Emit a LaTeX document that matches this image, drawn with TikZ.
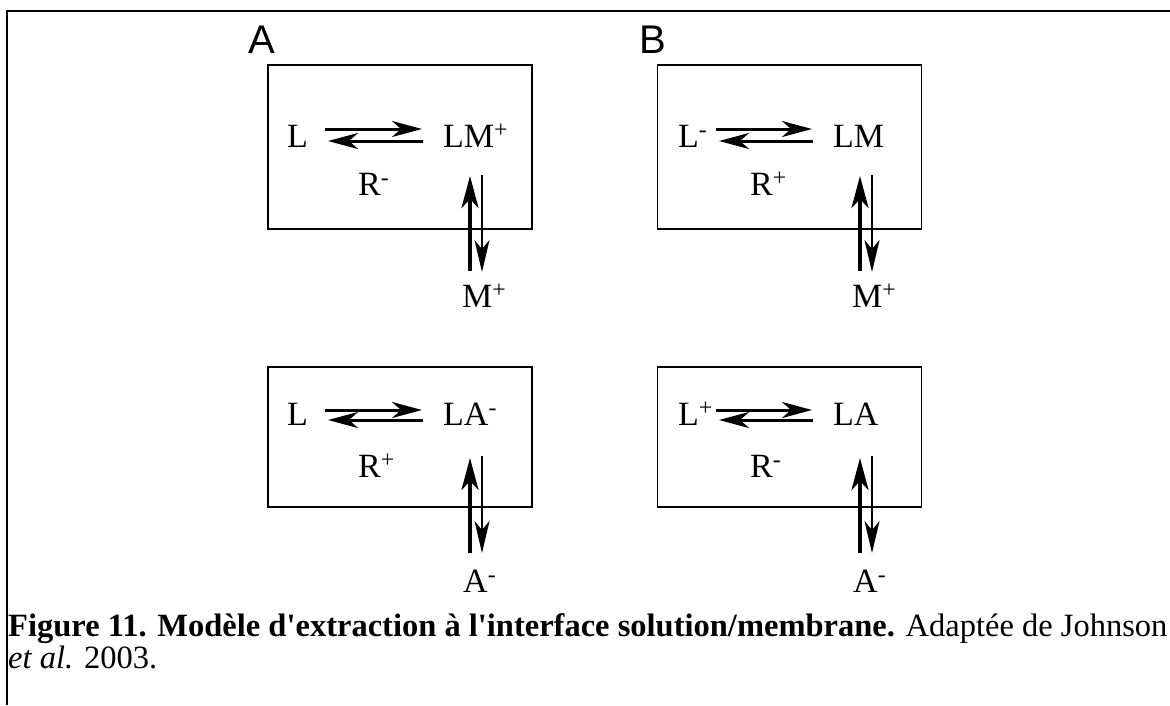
\documentclass[tikz,border=0pt]{standalone}
\usepackage{fontspec}
\setmainfont{Liberation Serif}
\newfontfamily\panelfont{Liberation Sans}
\usetikzlibrary{arrows.meta}
\tikzstyle{phase} = [
    rectangle,
    draw=black,
    line width=1.6pt,
    minimum width=264pt,
    inner sep=0pt
]
\tikzstyle{species} = [
    inner sep=0pt,
    font=\fontsize{34}{40}\selectfont
]
\tikzstyle{panel} = [
    inner sep=0pt,
    font=\panelfont\fontsize{40}{48}\selectfont
]
\tikzstyle{legend} = [
    inner sep=0pt,
    anchor=base west,
    font=\fontsize{32.5}{36}\selectfont
]
\tikzstyle{eqarrow} = [line width=3pt, -{Stealth[length=30pt,width=16pt,inset=9pt]}]
\tikzstyle{uparrow} = [line width=4pt, -{Stealth[length=32pt,width=17pt,inset=9pt]}]
\tikzstyle{downarrow} = [line width=2.4pt, -{Stealth[length=32pt,width=15pt,inset=9pt]}]

\begin{document}
\begin{tikzpicture}[x=1pt, y=-1pt]
\useasboundingbox (0,0) rectangle (1170,705);

% frame of the figure
\draw[line width=1.5pt] (1170,11) -- (7,11) -- (7,705);

\node (tagA) [panel] at (262,40) {A};
\node (tagB) [panel] at (653,40) {B};

% membrane phases
\node (memA) [phase, minimum height=164pt] at (400,147) {};
\node (memB) [phase, minimum height=164pt] at (789.5,147) {};
\node (memC) [phase, minimum height=140pt] at (400,437) {};
\node (memD) [phase, minimum height=140pt] at (789.5,437) {};

% panel A, cation
\node (la) [species, anchor=base east] at (308,147) {L};
\node (lma) [species, anchor=base west] at (443,147) {LM\rlap{\textsuperscript{+}}};
\node (ra) [species, anchor=base west] at (358,195) {R\rlap{\textsuperscript{-}}};
\node (ma) [species, anchor=base west] at (462,307) {M\rlap{\textsuperscript{+}}};

\draw [eqarrow] ([shift={(17pt,18pt)}]la.base east) -- ([shift={(-21pt,18pt)}]lma.base west);
\draw [eqarrow] ([shift={(-20pt,6pt)}]lma.base west) -- ([shift={(20pt,6pt)}]la.base east);
\draw [uparrow] ([shift={(8pt,36pt)}]ma.base west) -- ([shift={(27pt,-29pt)}]lma.base west);
\draw [downarrow] ([shift={(39pt,-28pt)}]lma.base west) -- ([shift={(20pt,35pt)}]ma.base west);

% panel B, cation
\node (lb) [species, anchor=base east] at (699,147) {L\rlap{\textsuperscript{-}}};
\node (lmb) [species, anchor=base west] at (833,147) {LM};
\node (rb) [species, anchor=base west] at (750,195) {R\rlap{\textsuperscript{+}}};
\node (mb) [species, anchor=base west] at (852,307) {M\rlap{\textsuperscript{+}}};

\draw [eqarrow] ([shift={(17pt,18pt)}]lb.base east) -- ([shift={(-21pt,18pt)}]lmb.base west);
\draw [eqarrow] ([shift={(-20pt,6pt)}]lmb.base west) -- ([shift={(20pt,6pt)}]lb.base east);
\draw [uparrow] ([shift={(8pt,36pt)}]mb.base west) -- ([shift={(27pt,-29pt)}]lmb.base west);
\draw [downarrow] ([shift={(39pt,-28pt)}]lmb.base west) -- ([shift={(20pt,35pt)}]mb.base west);

% panel A, anion
\node (lc) [species, anchor=base east] at (308,425) {L};
\node (lac) [species, anchor=base west] at (443,425) {LA\rlap{\textsuperscript{-}}};
\node (rc) [species, anchor=base west] at (358,477) {R\rlap{\textsuperscript{+}}};
\node (ac) [species, anchor=base west] at (463,592) {A\rlap{\textsuperscript{-}}};

\draw [eqarrow] ([shift={(17pt,15pt)}]lc.base east) -- ([shift={(-21pt,15pt)}]lac.base west);
\draw [eqarrow] ([shift={(-20pt,5pt)}]lac.base west) -- ([shift={(20pt,5pt)}]lc.base east);
\draw [uparrow] ([shift={(7pt,39pt)}]ac.base west) -- ([shift={(27pt,-33pt)}]lac.base west);
\draw [downarrow] ([shift={(39pt,-31pt)}]lac.base west) -- ([shift={(19pt,39pt)}]ac.base west);

% panel B, anion
\node (ld) [species, anchor=base east] at (699,425) {L\rlap{\textsuperscript{+}}};
\node (lad) [species, anchor=base west] at (833,425) {LA};
\node (rd) [species, anchor=base west] at (750,477) {R\rlap{\textsuperscript{-}}};
\node (ad) [species, anchor=base west] at (853,592) {A\rlap{\textsuperscript{-}}};

\draw [eqarrow] ([shift={(17pt,15pt)}]ld.base east) -- ([shift={(-21pt,15pt)}]lad.base west);
\draw [eqarrow] ([shift={(-20pt,5pt)}]lad.base west) -- ([shift={(20pt,5pt)}]ld.base east);
\draw [uparrow] ([shift={(7pt,39pt)}]ad.base west) -- ([shift={(27pt,-33pt)}]lad.base west);
\draw [downarrow] ([shift={(39pt,-31pt)}]lad.base west) -- ([shift={(19pt,39pt)}]ad.base west);

% caption
\node (cap1) [legend] at (8,636) {\textbf{Figure 11. Modèle d\textquotesingle extraction à l\textquotesingle interface solution/membrane.} Adaptée de Johnson};
\node (cap2) [legend] at (8,668) {\textit{et al.} 2003.};

\end{tikzpicture}
\end{document}
